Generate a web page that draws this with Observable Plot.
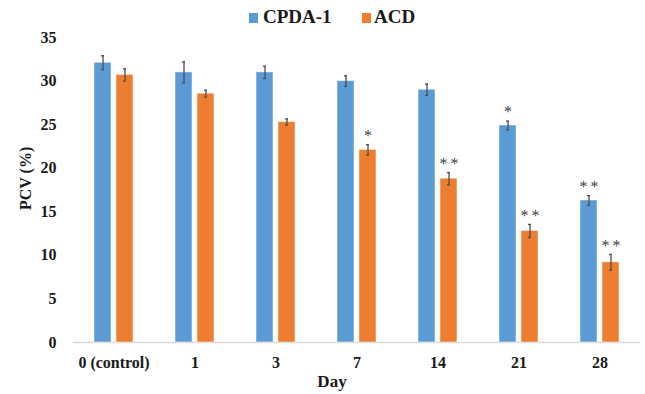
<!DOCTYPE html>
<html>
<head>
<meta charset="utf-8">
<script src="https://cdn.jsdelivr.net/npm/d3@7"></script>
<script src="https://cdn.jsdelivr.net/npm/@observablehq/plot@0.6"></script>
<style>
  html, body { margin: 0; padding: 0; background: #fff; }
  #wrap { position: relative; width: 645px; height: 394px; font-family: "Liberation Serif", serif; }
  .leg { position: absolute; top: 4px; font-size: 19px; font-weight: bold; color: #1a1a1a; line-height: 26px; white-space: nowrap; }
  .sw { position: absolute; top: 13px; width: 9px; height: 10px; }
</style>
</head>
<body>
<div id="wrap">
  <div id="chart"></div>
</div>
<script>
const days = ["0 (control)", "1", "3", "7", "14", "21", "28"];
const series = ["CPDA-1", "ACD"];
const cpda = [32.1, 31.0, 31.0, 30.0, 29.0, 24.9, 16.3];
const cpdaErr = [0.8, 1.2, 0.7, 0.6, 0.65, 0.5, 0.55];
const cpdaSig = ["", "", "", "", "", "*", "**"];
const acd = [30.7, 28.55, 25.3, 22.1, 18.8, 12.8, 9.2];
const acdErr = [0.7, 0.4, 0.35, 0.6, 0.7, 0.75, 0.9];
const acdSig = ["", "", "", "*", "**", "**", "**"];
const yTicks = [0, 5, 10, 15, 20, 25, 30, 35];
const colors = ["#5b9bd5", "#ed7d31"];

const rows = days.flatMap((d, i) => [
  {day: d, series: series[0], v: cpda[i], e: cpdaErr[i], sig: cpdaSig[i]},
  {day: d, series: series[1], v: acd[i], e: acdErr[i], sig: acdSig[i]}
]);

const chart = Plot.plot({
  width: 645,
  height: 394,
  marginLeft: 72,
  marginRight: 5,
  marginTop: 37,
  marginBottom: 52,
  style: {fontFamily: "Liberation Serif, serif", fontWeight: "bold", fontSize: "16px", color: "#1a1a1a", background: "white"},
  fx: {domain: days, padding: 0, label: null, tickSize: 0, tickPadding: 14, axis: "bottom"},
  x: {domain: series, paddingInner: 0.24, paddingOuter: 0.9, axis: null},
  y: {domain: [0, 35], ticks: yTicks, tickSize: 0, tickPadding: 17, label: null},
  color: {domain: series, range: colors},
  marks: [
    Plot.ruleY([0], {stroke: "#d9d9d9", strokeWidth: 1.5}),
    Plot.barY(rows, {fx: "day", x: "series", y: "v", fill: "series", stroke: "white", strokeOpacity: 0.5, strokeWidth: 1}),
    Plot.ruleX(rows, {fx: "day", x: "series", y1: d => d.v - d.e, y2: d => d.v + d.e, stroke: "#4d4d4d", strokeWidth: 1.3}),
    Plot.tickY(rows, {fx: "day", x: "series", y: d => d.v + d.e, stroke: "#4d4d4d", strokeWidth: 1.3, insetLeft: 7, insetRight: 7}),
    Plot.tickY(rows, {fx: "day", x: "series", y: d => d.v - d.e, stroke: "#4d4d4d", strokeWidth: 1.3, insetLeft: 7, insetRight: 7}),
    Plot.text(rows.filter(d => d.sig), {fx: "day", x: "series", y: d => d.v + d.e, text: d => d.sig.split("").join("\u2009"), dy: -9, fontSize: 16, fontWeight: "normal", fill: "#404040"}),
    Plot.text([{day: days[0], t: "PCV (%)"}], {fx: "day", text: "t", frameAnchor: "left", rotate: -90, dx: -48, dy: 20, fontSize: 16}),
    Plot.text([{day: days[3], t: "Day"}], {fx: "day", text: "t", frameAnchor: "bottom", dx: -25, dy: 44, fontSize: 17})
  ]
});
document.getElementById("chart").appendChild(chart);

const wrap = document.getElementById("wrap");
const legendPos = [{sq: 249, tx: 263}, {sq: 362, tx: 374}];
series.forEach((s, i) => {
  const sw = document.createElement("div");
  sw.className = "sw";
  sw.style.left = legendPos[i].sq + "px";
  sw.style.background = colors[i];
  wrap.appendChild(sw);
  const t = document.createElement("div");
  t.className = "leg";
  t.style.left = legendPos[i].tx + "px";
  t.textContent = s;
  wrap.appendChild(t);
});
</script>
</body>
</html>
